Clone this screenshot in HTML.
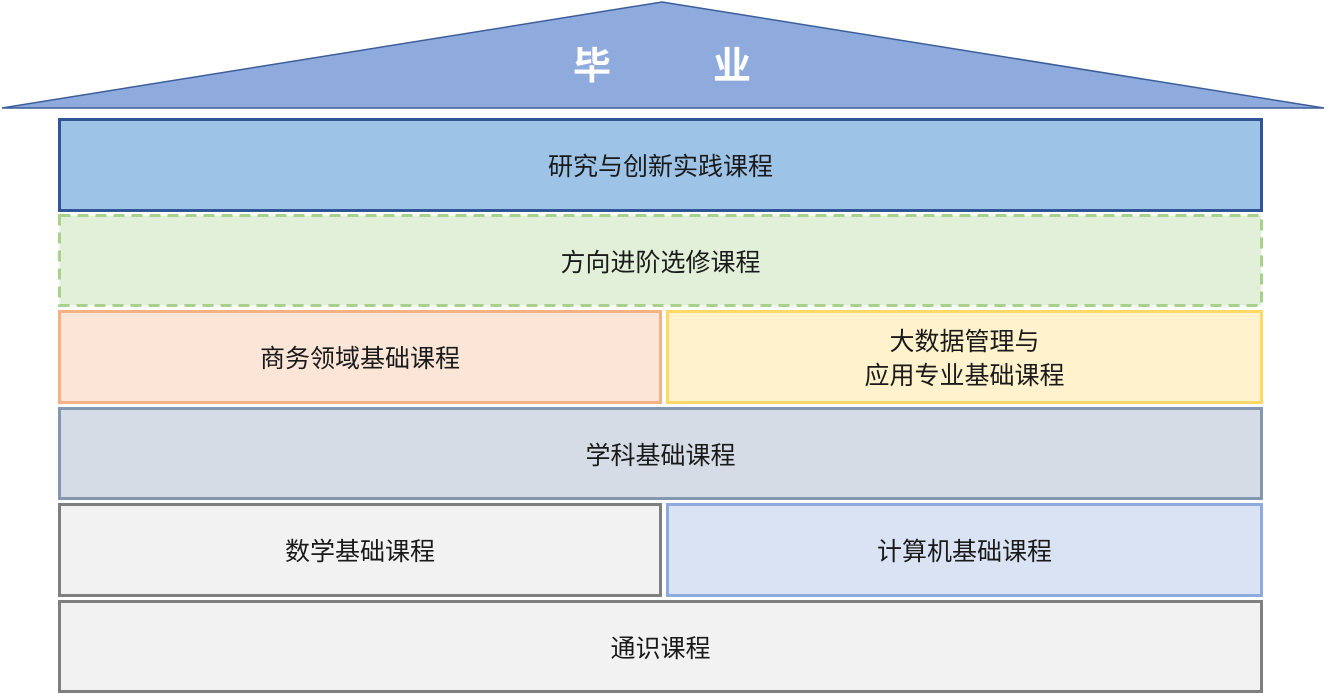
<!DOCTYPE html>
<html><head><meta charset="utf-8"><style>
html,body{margin:0;padding:0;background:#fff;width:1326px;height:694px;overflow:hidden;position:relative;font-family:"Liberation Sans","Noto Sans CJK SC",sans-serif;}
.b{position:absolute;box-sizing:border-box;display:flex;align-items:center;justify-content:center;text-align:center;font-size:25px;color:#1a1a1a;line-height:34px;padding-top:4px;}
</style></head><body>
<svg width="1326" height="694" style="position:absolute;left:0;top:0">
<polygon points="2,108 662,2 1324,108" fill="#8FAADC" stroke="#3B5E9A" stroke-width="1.5"/>
<text x="592" y="79" font-size="38" font-weight="bold" fill="#fff" text-anchor="middle" font-family="Noto Sans CJK SC, sans-serif">毕</text>
<text x="732" y="79" font-size="38" font-weight="bold" fill="#fff" text-anchor="middle" font-family="Noto Sans CJK SC, sans-serif">业</text>
<rect x="59.5" y="215.5" width="1202" height="90" fill="#E2F0D9" stroke="#A9D18E" stroke-width="3" stroke-dasharray="11 7"/>
</svg>
<div class="b" style="left:58px;top:118px;width:1205px;height:94px;background:#9DC3E6;border:3px solid #2F5597">研究与创新实践课程</div>
<div class="b" style="left:58px;top:214px;width:1205px;height:93px;">方向进阶选修课程</div>
<div class="b" style="left:58px;top:310px;width:604px;height:94px;background:#FBE5D6;border:3px solid #F4B183">商务领域基础课程</div>
<div class="b" style="left:666px;top:310px;width:597px;height:94px;background:#FFF2CC;border:3px solid #FFD966">大数据管理与<br>应用专业基础课程</div>
<div class="b" style="left:58px;top:407px;width:1205px;height:93px;background:#D6DCE5;border:3px solid #8497B0">学科基础课程</div>
<div class="b" style="left:58px;top:503px;width:604px;height:94px;background:#F2F2F2;border:3px solid #7F7F7F">数学基础课程</div>
<div class="b" style="left:666px;top:503px;width:597px;height:94px;background:#DAE3F3;border:3px solid #8FAADC">计算机基础课程</div>
<div class="b" style="left:58px;top:600px;width:1205px;height:93px;background:#F2F2F2;border:3px solid #7F7F7F">通识课程</div>
</body></html>
